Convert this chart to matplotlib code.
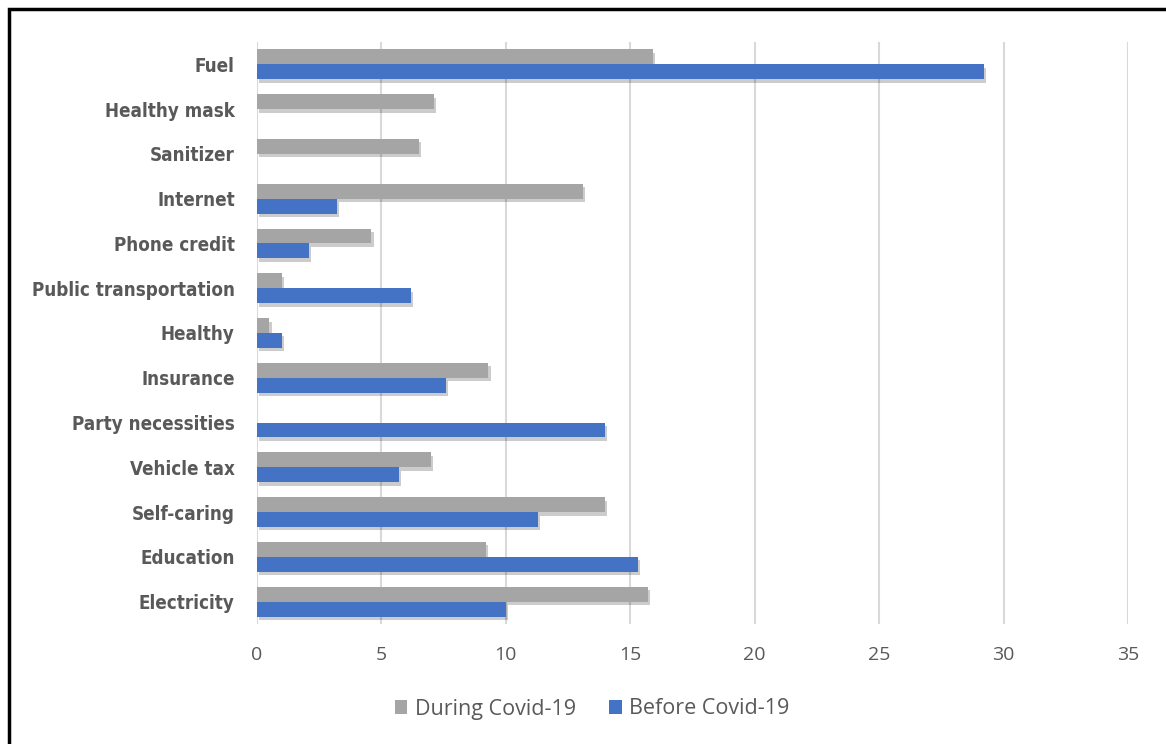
import matplotlib
matplotlib.use("Agg")
import matplotlib.pyplot as plt
import matplotlib.patheffects as pe
from matplotlib.patches import Rectangle, Patch
import numpy as np

categories = ["Fuel", "Healthy mask", "Sanitizer", "Internet", "Phone credit",
              "Public transportation", "Healthy", "Insurance", "Party necessities",
              "Vehicle tax", "Self-caring", "Education", "Electricity"]
during_covid = [15.9, 7.1, 6.5, 13.1, 4.6, 1.0, 0.5, 9.3, 0.0, 7.0, 14.0, 9.2, 15.7]
before_covid = [29.2, 0.0, 0.0, 3.2, 2.1, 6.2, 1.0, 7.6, 14.0, 5.7, 11.3, 15.3, 10.0]
x_ticks = [0, 5, 10, 15, 20, 25, 30, 35]

GRAY = "#a5a5a5"
BLUE = "#4472c4"
TEXT = "#595959"

fig = plt.figure(figsize=(11.66, 7.44), dpi=100)
ax = fig.add_axes([257 / 1166, 1 - 624 / 744, (1128 - 257) / 1166, (624 - 42) / 744])

n = len(categories)
y = np.arange(n)
h = 1 / 3
shadow = [pe.SimplePatchShadow(offset=(1.5, -2.5), shadow_rgbFace="#000000", alpha=0.2), pe.Normal()]

ax.barh(y - h / 2, during_covid, height=h, color=GRAY, path_effects=shadow, zorder=3)
ax.barh(y + h / 2, before_covid, height=h, color=BLUE, path_effects=shadow, zorder=3)

ax.set_ylim(n - 0.5, -0.5)
ax.set_xlim(0, 35)
ax.set_xticks(x_ticks)
ax.set_yticks(y)
ax.set_yticklabels(categories, family=["DejaVu Sans"], fontstretch="condensed",
                   fontweight="bold", fontsize=13.5, color=TEXT)
for lbl in ax.get_xticklabels():
    lbl.set_family(["Open Sans", "DejaVu Sans"])
    lbl.set_fontsize(14)
    lbl.set_color(TEXT)
ax.tick_params(axis="both", length=0)
ax.tick_params(axis="y", pad=16)
ax.tick_params(axis="x", pad=16)
ax.grid(axis="x", color="#d9d9d9", linewidth=1.5, zorder=0)
for s in ax.spines.values():
    s.set_visible(False)

handles = [Patch(facecolor=GRAY, label="During Covid-19"),
           Patch(facecolor=BLUE, label="Before Covid-19")]
fig.legend(handles=handles, loc="center", bbox_to_anchor=(592 / 1166, 1 - 709 / 744),
           ncol=2, frameon=False, handlelength=0.6, handleheight=0.6, handletextpad=0.33,
           columnspacing=1.55, prop={"family": ["Open Sans", "DejaVu Sans"], "size": 15.5},
           labelcolor=TEXT)

# outer frame around the chart
fig.patches.append(Rectangle((9 / 1166, -0.05), 1.2, 1 - 9 / 744 + 0.05,
                             transform=fig.transFigure, fill=False, edgecolor="black",
                             linewidth=2.5, zorder=10))

fig.savefig("out.png", dpi=100)
